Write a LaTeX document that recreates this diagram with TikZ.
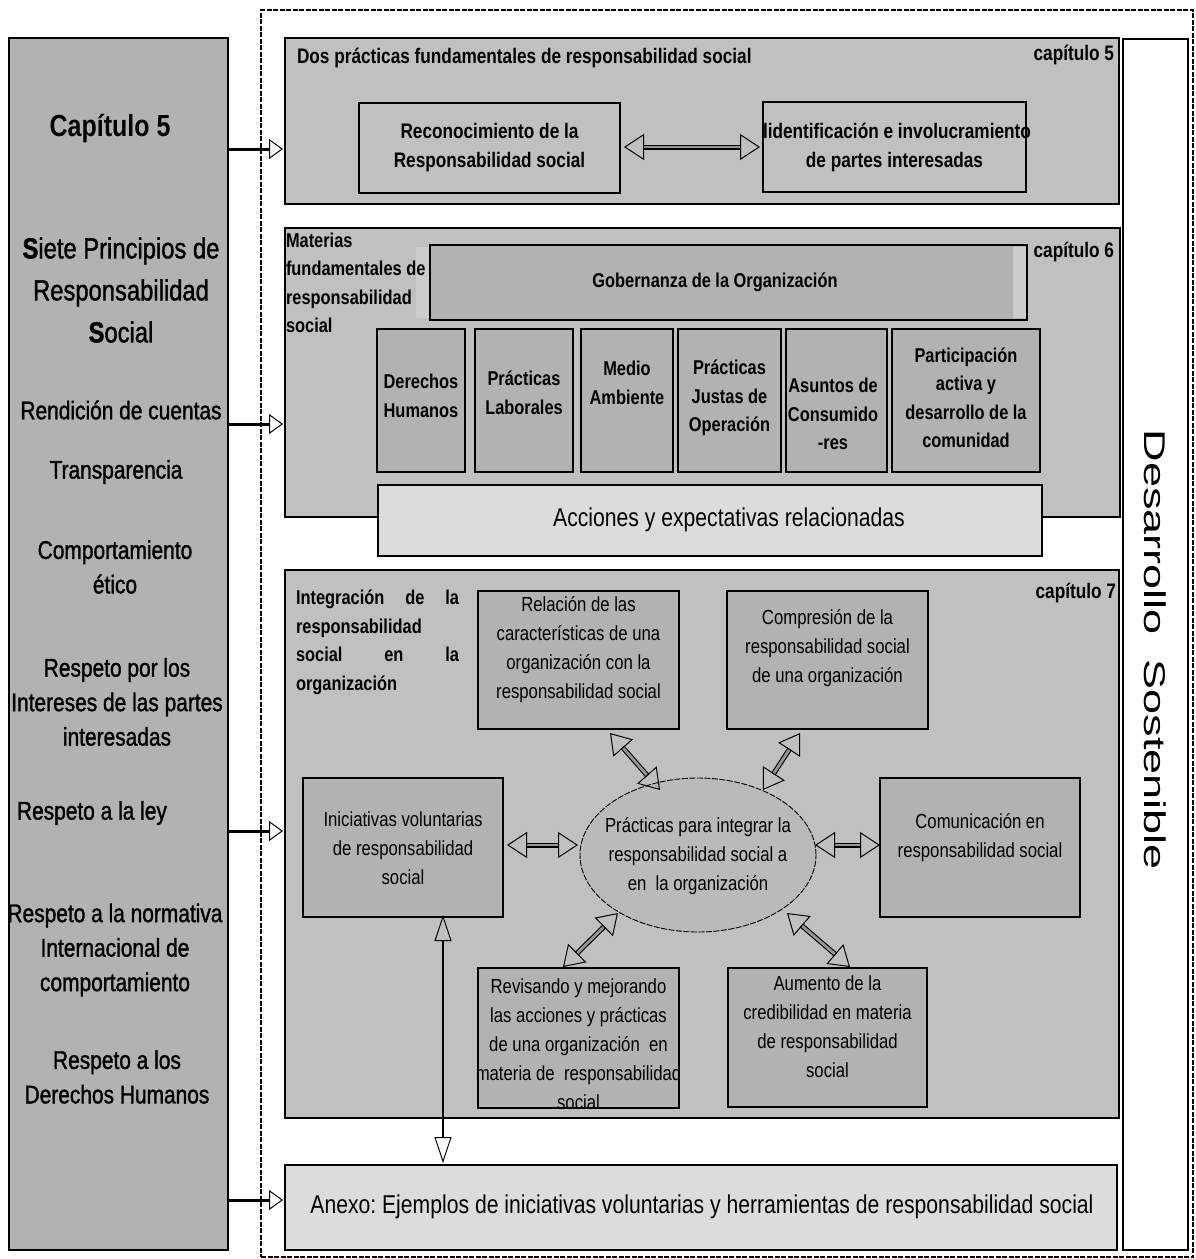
\documentclass[tikz,border=0pt]{standalone}
\usepackage{fontspec}
\setmainfont{Liberation Sans}
\newfontfamily\nar[FakeStretch=0.82]{Liberation Sans}
\newfontfamily\narb[FakeStretch=0.82,FakeBold=1.3]{Liberation Sans}
\usetikzlibrary{arrows.meta,shapes.geometric,calc}
\definecolor{panelgray}{RGB}{178,178,178}
\definecolor{chapgray}{RGB}{192,192,192}
\definecolor{innergray}{RGB}{178,178,178}
\definecolor{lightgraybox}{RGB}{220,220,220}
\definecolor{ellgray}{RGB}{186,186,186}
\definecolor{stripgray}{RGB}{204,204,204}
\definecolor{shaftgray}{RGB}{150,150,150}
\frenchspacing
\begin{document}
\begin{tikzpicture}[x=1pt,y=-1pt,
  every node/.style={inner sep=0pt, outer sep=0pt, align=center},
  boxline/.style={draw=black, line width=1.5pt},
  chapbox/.style={boxline, fill=chapgray},
  innerbox/.style={boxline, fill=innergray},
  lightbox/.style={boxline, fill=lightgraybox},
  fleft/.style={font=\narb\fontsize{25.5}{34.5}\selectfont},
  fhead/.style={font=\nar\bfseries\fontsize{21}{29}\selectfont},
  fsix/.style={font=\nar\bfseries\fontsize{20}{28.5}\selectfont},
  fseven/.style={font=\nar\fontsize{20.4}{29}\selectfont},
  fbig/.style={font=\nar\fontsize{25.8}{30}\selectfont},
  biarrow/.style={draw=none,
    preaction={draw=black, line width=1.1pt, double=shaftgray, double distance=2.8pt, shorten <=19pt, shorten >=19pt},
    postaction={draw=black, line width=1pt, dash pattern=on 0pt off 3000pt,
      arrows={Triangle[open,length=20pt,width=26pt,line width=1pt]-Triangle[open,length=20pt,width=26pt,line width=1pt]}}},
  leftarrow/.style={draw=black, line width=3pt,
      arrows={-Triangle[open,length=14pt,width=20pt,line width=1pt]}},
  thinbi/.style={draw=black, line width=1.2pt,
      arrows={Triangle[open,length=26pt,width=17pt,line width=1pt]-Triangle[open,length=26pt,width=17pt,line width=1pt]}}
]
\useasboundingbox (0,0) rectangle (1196,1259);

% outer dashed frame
\node[draw=black, line width=1.3pt, dash pattern=on 5pt off 1.5pt, minimum width=932pt, minimum height=1247pt] (frame) at (727,633.5) {};

% left panel
\node[boxline, fill=panelgray, minimum width=219pt, minimum height=1212pt] (panel) at (118.5,644) {};
\node[font=\nar\bfseries\fontsize{30.5}{36}\selectfont] (cap5) at (110,128) {Capítulo 5};
\node[font=\narb\fontsize{29}{42}\selectfont] (siete) at (121,290) {{\bfseries S}iete Principios de\\Responsabilidad\\{\bfseries S}ocial};
\node[fleft] (rend) at (121,410) {Rendición de cuentas};
\node[fleft] (transp) at (116,472) {Transparencia};
\node[fleft] (etico) at (115,567) {Comportamiento\\ético};
\node[fleft] (interes) at (117,702) {Respeto por los\\Intereses de las partes\\interesadas};
\node[fleft, anchor=west] (ley) at (17,813) {Respeto a la ley};
\node[fleft] (normat) at (115,950) {Respeto a la normativa\\Internacional de\\comportamiento};
\node[fleft] (ddhh) at (117,1077) {Respeto a los\\Derechos Humanos};

% Desarrollo Sostenible
\node[boxline, fill=white, minimum width=65pt, minimum height=1211pt] (dsbox) at (1155.5,644.5) {};
\node[rotate=-90, font=\fontsize{30}{36}\selectfont] (dstext) at (1155,650) {\scalebox{1.5}[1]{Desarrollo\ \ Sostenible}};

% chapter 5
\node[chapbox, minimum width=834pt, minimum height=166pt] (ch5) at (702,121) {};
\node[fhead, anchor=west] (ch5title) at (297,58) {Dos prácticas fundamentales de responsabilidad social};
\node[fhead, anchor=east] (ch5num) at (1114,55) {capítulo 5};
\node[chapbox, fhead, minimum width=261pt, minimum height=90pt] (recon) at (489.5,148) {Reconocimiento de la\\Responsabilidad social};
\node[chapbox, fhead, minimum width=263pt, minimum height=90pt, text width=263pt, align=flush center] (ident) at (894.5,147) {\mbox{lidentificación e involucramiento}\\de partes interesadas};
\draw[biarrow] ($(recon.east)+(4,-1)$) -- ($(ident.west)+(-3,0)$);

% chapter 6
\node[chapbox, minimum width=835pt, minimum height=289pt] (ch6) at (702.5,372.5) {};
\node[innerbox, minimum width=597pt, minimum height=75pt] (gob) at (728.5,282.5) {};
\fill[stripgray] ($(gob.north west)+(-14,2)$) rectangle ($(gob.south west)+(-0.8,-2)$);
\fill[stripgray] ($(gob.north east)+(-14,2)$) rectangle ($(gob.south east)+(-0.8,-2)$);
\node[fsix] (gobT) at (715,282) {Gobernanza de la Organización};
\node[fsix, anchor=north west, align=left] (ch6title) at (286,233) {Materias\\fundamentales de\\responsabilidad\\social};
\node[fhead, anchor=east] (ch6num) at (1114,252) {capítulo 6};

\node[innerbox, minimum width=88pt, minimum height=143pt] (dh) at (421,400.5) {};
\node[fsix] (dhT) at (421,396) {Derechos\\Humanos};
\node[innerbox, minimum width=98pt, minimum height=143pt] (pl) at (524,400.5) {};
\node[fsix] (plT) at (524,393) {Prácticas\\Laborales};
\node[innerbox, minimum width=92pt, minimum height=143pt] (ma) at (627,400.5) {};
\node[fsix] (maT) at (627,383) {Medio\\Ambiente};
\node[innerbox, minimum width=103pt, minimum height=143pt] (pj) at (729.5,400.5) {};
\node[fsix] (pjT) at (729.5,398) {Prácticas\\Justas de\\Operación};
\node[innerbox, minimum width=101pt, minimum height=143pt] (ac) at (836.5,400.5) {};
\node[fsix] (acT) at (833,414) {Asuntos de\\Consumido\\-res};
\node[innerbox, minimum width=148pt, minimum height=143pt] (pa) at (966,400.5) {};
\node[fsix] (paT) at (966,398) {Participación\\activa y\\desarrollo de la\\comunidad};

\node[lightbox, minimum width=664pt, minimum height=71pt] (acc) at (710,520.5) {};
\node[fbig] (accT) at (729,520) {Acciones y expectativas relacionadas};

% chapter 7
\node[chapbox, minimum width=834pt, minimum height=548pt] (ch7) at (702,844) {};
\node[fsix, anchor=north west, text width=163pt, align=left] (ch7title) at (296,590) {Integración\hfill de\hfill la\\responsabilidad\\social\hfill en\hfill la\\organización};
\node[fhead, anchor=east] (ch7num) at (1116,593) {capítulo 7};

\node[innerbox, minimum width=201pt, minimum height=138pt] (rel) at (578.5,660) {};
\node[fseven] (relT) at (578.5,650) {Relación de las\\características de una\\organización con la\\responsabilidad social};
\node[innerbox, minimum width=201pt, minimum height=138pt] (comp) at (827.5,660) {};
\node[fseven] (compT) at (827.5,648) {Compresión de la\\responsabilidad social\\de una organización};
\node[innerbox, minimum width=200pt, minimum height=139pt] (ini) at (403,847.5) {};
\node[fseven] (iniT) at (403,848) {Iniciativas voluntarias\\de responsabilidad\\social};
\node[ellipse, draw=black, line width=0.9pt, dash pattern=on 6pt off 1.5pt, fill=ellgray, minimum width=236pt, minimum height=154pt] (ell) at (698,855) {};
\node[fseven] (ellT) at (698,856) {Prácticas para integrar la\\responsabilidad social a\\en\ \ la organización};
\node[innerbox, minimum width=200pt, minimum height=139pt] (com) at (980,847.5) {};
\node[fseven] (comT) at (980,838) {Comunicación en\\responsabilidad social};
\node[innerbox, minimum width=201pt, minimum height=140pt] (rev) at (578.5,1038) {};
\node[fseven] (revT) at (578.5,1044) {Revisando y mejorando\\las acciones y prácticas\\de una organización\ \ en\\materia de\ \ responsabilidad\\social};
\node[innerbox, minimum width=199pt, minimum height=139pt] (aum) at (827.5,1037.5) {};
\node[fseven] (aumT) at (827.5,1027) {Aumento de la\\credibilidad en materia\\de responsabilidad\\social};

\draw[biarrow] ($(rel.south)+(31.5,4)$) -- ($(ell.center)+(-38,-65)$);
\draw[biarrow] ($(comp.south)+(-27.5,4)$) -- ($(ell.center)+(65,-65)$);
\draw[biarrow] ($(ini.east)+(4,-2.5)$) -- ($(ell.west)+(-2,-10)$);
\draw[biarrow] ($(ell.east)+(-1,-10)$) -- ($(com.west)+(0,-2.5)$);
\draw[biarrow] ($(ell.center)+(-80,58)$) -- ($(rev.north)+(-15.5,-1)$);
\draw[biarrow] ($(ell.center)+(89,58)$) -- ($(aum.north)+(22.5,-1)$);

% annex
\node[lightbox, minimum width=832pt, minimum height=85pt] (anexo) at (701,1207.5) {};
\node[fbig] (anexoT) at (702,1207) {Anexo: Ejemplos de iniciativas voluntarias y herramientas de responsabilidad social};

\draw[thinbi] ($(ini.south)+(40,-2)$) -- ($(anexo.north)+(-258,-2)$);

% arrows from left panel
\draw[leftarrow] ($(panel.east)+(0,-495)$) -- ($(ch5.west)+(-2,28)$);
\draw[leftarrow] ($(panel.east)+(0,-220)$) -- ($(ch6.west)+(-2,51.5)$);
\draw[leftarrow] ($(panel.east)+(0,187)$) -- ($(ch7.west)+(-2,-13)$);
\draw[leftarrow] ($(panel.east)+(0,556)$) -- ($(anexo.west)+(-2,-7.5)$);
\end{tikzpicture}
\end{document}
